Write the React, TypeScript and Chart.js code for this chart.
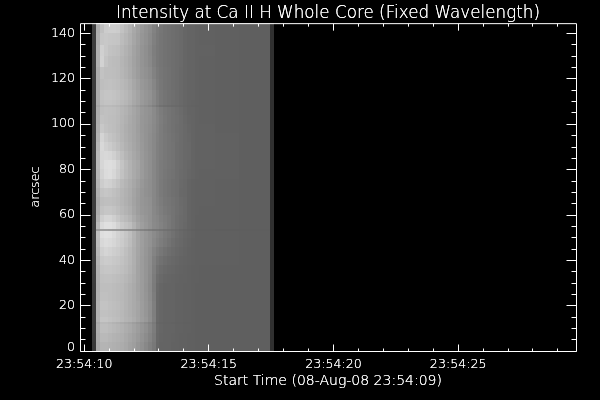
import React, { useEffect, useRef } from "react";
import { Chart, registerables } from "chart.js";

Chart.register(...registerables);

const titleText = "Intensity at Ca II H Whole Core (Fixed Wavelength)";
const xTitleText = "Start Time (08-Aug-08 23:54:09)";
const yTitleText = "arcsec";
const xMajorTicks = [10, 15, 20, 25];
const xMinorTicks = [11, 12, 13, 14, 16, 17, 18, 19, 21, 22, 23, 24, 26, 27, 28, 29];
const yMajorTicks = [0, 20, 40, 60, 80, 100, 120, 140];
const yMinorTicks = [5, 10, 15, 25, 30, 35, 45, 50, 55, 65, 70, 75, 85, 90, 95, 105, 110, 115, 125, 130, 135];

// Column edges, seconds after 23:54:00
const columnEdges = [10.30, 10.46, 10.62, 10.78, 10.94, 11.10, 11.26, 11.42, 11.58, 11.74, 11.90, 12.06, 12.22, 12.38, 12.54, 12.70, 12.86, 13.02, 13.18, 13.34, 13.50, 13.66, 13.82, 13.98, 14.14, 14.30, 14.46, 14.62, 15.26, 16.22, 17.46, 17.62];
// Row edges, arcsec, top to bottom
const rowEdges = [144.5, 140, 135, 130, 125, 120, 115, 110.5, 108.4, 107.6, 104, 100, 96, 92, 88, 84, 80, 76, 72, 68, 64, 60, 57, 53.8, 53.0, 50, 46, 42, 38, 34, 30, 26, 22, 18, 15, 12.7, 11.9, 8, 4, 0];

// Intensity (grey level) for each row, one value per column
const intensity = [
  [60, 172, 192, 204, 206, 206, 204, 194, 186, 178, 168, 160, 152, 146, 140, 130, 122, 118, 114, 112, 110, 108, 106, 102, 100, 100, 98, 97, 96, 95, 48],
  [60, 174, 198, 200, 198, 197, 196, 188, 182, 175, 166, 158, 150, 145, 138, 128, 121, 117, 114, 112, 110, 108, 106, 102, 100, 100, 98, 97, 96, 95, 48],
  [60, 176, 208, 200, 194, 192, 190, 184, 178, 172, 163, 156, 148, 143, 136, 126, 120, 117, 114, 112, 110, 108, 106, 102, 100, 100, 98, 98, 96, 95, 48],
  [60, 176, 210, 196, 190, 188, 187, 181, 176, 170, 162, 155, 148, 143, 137, 127, 120, 117, 114, 112, 110, 108, 106, 102, 100, 100, 98, 97, 96, 95, 48],
  [60, 172, 194, 190, 190, 189, 187, 182, 177, 171, 163, 156, 149, 145, 140, 130, 122, 118, 115, 113, 110, 108, 105, 102, 100, 100, 98, 97, 96, 95, 48],
  [60, 172, 190, 192, 193, 191, 189, 185, 181, 175, 167, 160, 152, 148, 143, 134, 124, 119, 115, 113, 110, 108, 105, 102, 100, 100, 98, 97, 96, 95, 48],
  [60, 173, 194, 197, 197, 195, 192, 188, 184, 178, 170, 163, 155, 150, 146, 137, 127, 120, 116, 113, 111, 108, 105, 102, 100, 100, 98, 97, 96, 95, 48],
  [60, 172, 192, 195, 195, 193, 190, 186, 182, 176, 168, 162, 154, 149, 144, 136, 127, 120, 116, 113, 110, 108, 105, 102, 100, 99, 98, 97, 96, 95, 48],
  [60, 166, 184, 186, 186, 184, 182, 178, 174, 168, 160, 154, 146, 142, 136, 128, 120, 113, 110, 108, 106, 105, 103, 101, 99, 98, 97, 97, 96, 95, 48],
  [60, 172, 190, 192, 191, 190, 187, 182, 178, 172, 166, 160, 152, 148, 145, 138, 130, 124, 119, 116, 113, 110, 107, 103, 100, 100, 98, 97, 96, 95, 48],
  [60, 173, 194, 192, 190, 189, 186, 181, 176, 170, 165, 159, 151, 148, 144, 138, 131, 125, 120, 116, 113, 111, 108, 104, 101, 100, 98, 97, 96, 95, 48],
  [60, 175, 200, 194, 191, 189, 185, 180, 174, 169, 165, 158, 151, 147, 143, 137, 130, 124, 119, 116, 113, 110, 108, 105, 102, 100, 98, 98, 96, 95, 48],
  [60, 178, 212, 202, 196, 192, 187, 181, 175, 170, 165, 159, 152, 147, 142, 136, 129, 124, 120, 117, 114, 111, 108, 105, 103, 100, 98, 98, 97, 95, 48],
  [60, 182, 216, 208, 203, 197, 191, 184, 177, 172, 166, 160, 153, 147, 142, 136, 128, 124, 120, 117, 115, 110, 108, 105, 104, 100, 98, 98, 97, 95, 48],
  [60, 185, 214, 216, 214, 208, 199, 190, 181, 175, 168, 162, 154, 148, 143, 136, 128, 124, 120, 117, 115, 110, 108, 105, 104, 100, 98, 98, 97, 95, 48],
  [60, 186, 214, 221, 222, 219, 208, 196, 186, 178, 170, 165, 155, 148, 143, 135, 128, 123, 120, 117, 115, 110, 108, 105, 103, 100, 98, 98, 97, 95, 48],
  [60, 184, 210, 219, 221, 215, 205, 194, 185, 178, 170, 164, 155, 148, 143, 135, 128, 123, 119, 116, 114, 110, 107, 105, 102, 100, 98, 97, 97, 95, 48],
  [60, 180, 204, 210, 208, 202, 195, 186, 180, 174, 167, 160, 152, 146, 142, 135, 128, 122, 118, 115, 112, 110, 106, 104, 100, 98, 97, 97, 96, 95, 48],
  [60, 175, 195, 198, 196, 192, 188, 182, 177, 172, 164, 157, 150, 145, 142, 135, 128, 122, 118, 115, 112, 110, 105, 104, 100, 98, 97, 97, 96, 95, 48],
  [60, 171, 189, 191, 191, 189, 186, 181, 176, 171, 163, 156, 150, 147, 144, 135, 129, 124, 119, 117, 114, 111, 107, 105, 100, 98, 97, 97, 96, 95, 48],
  [60, 173, 194, 198, 198, 195, 190, 184, 179, 174, 165, 157, 151, 148, 145, 136, 131, 126, 121, 118, 115, 111, 108, 105, 100, 98, 97, 96, 96, 95, 48],
  [60, 178, 206, 213, 213, 207, 199, 191, 186, 180, 170, 161, 155, 150, 145, 137, 134, 128, 124, 120, 115, 110, 107, 105, 100, 98, 96, 96, 96, 95, 48],
  [60, 186, 218, 224, 224, 220, 210, 201, 195, 190, 178, 166, 158, 152, 146, 138, 135, 130, 125, 120, 115, 110, 107, 104, 100, 98, 96, 96, 96, 95, 48],
  [60, 155, 160, 160, 158, 156, 154, 150, 148, 145, 142, 136, 132, 128, 124, 120, 119, 116, 113, 111, 108, 105, 102, 100, 98, 96, 95, 95, 94, 94, 48],
  [60, 190, 222, 225, 224, 218, 210, 205, 198, 190, 178, 166, 158, 152, 146, 139, 133, 128, 122, 118, 113, 108, 105, 102, 100, 98, 96, 96, 96, 95, 48],
  [60, 188, 216, 220, 218, 214, 208, 203, 196, 188, 177, 166, 158, 151, 146, 137, 130, 125, 120, 115, 110, 106, 104, 101, 99, 97, 96, 96, 96, 95, 48],
  [60, 184, 208, 213, 210, 206, 203, 198, 191, 184, 175, 165, 157, 150, 143, 132, 124, 119, 114, 110, 107, 104, 102, 100, 98, 97, 96, 96, 96, 95, 48],
  [60, 180, 201, 204, 203, 200, 198, 194, 189, 183, 175, 164, 156, 149, 142, 128, 118, 113, 109, 106, 104, 102, 100, 99, 98, 97, 96, 96, 96, 95, 48],
  [60, 177, 196, 198, 198, 196, 194, 191, 187, 181, 174, 163, 156, 149, 141, 126, 113, 108, 105, 103, 102, 100, 99, 98, 97, 96, 96, 95, 95, 95, 48],
  [59, 176, 192, 193, 193, 191, 189, 187, 183, 178, 172, 163, 156, 149, 140, 124, 109, 105, 102, 101, 100, 99, 98, 98, 97, 96, 96, 95, 95, 95, 48],
  [58, 175, 190, 190, 190, 188, 186, 185, 180, 175, 170, 162, 156, 148, 139, 123, 106, 102, 100, 100, 100, 98, 98, 97, 97, 96, 95, 95, 95, 95, 48],
  [58, 176, 192, 192, 190, 188, 186, 184, 180, 175, 170, 163, 156, 149, 140, 125, 105, 102, 100, 100, 100, 98, 98, 97, 97, 96, 95, 95, 95, 95, 48],
  [58, 178, 195, 195, 192, 190, 188, 185, 180, 175, 170, 165, 157, 150, 142, 127, 105, 102, 100, 100, 100, 98, 98, 97, 97, 96, 95, 95, 95, 95, 48],
  [58, 177, 193, 193, 191, 189, 187, 184, 179, 175, 170, 164, 157, 150, 141, 126, 105, 102, 100, 100, 100, 98, 98, 97, 97, 96, 95, 95, 95, 95, 48],
  [58, 178, 197, 197, 194, 191, 189, 185, 180, 177, 172, 165, 158, 152, 142, 127, 105, 102, 100, 100, 100, 98, 98, 97, 97, 96, 95, 95, 95, 95, 48],
  [58, 170, 186, 186, 183, 179, 176, 172, 168, 164, 158, 152, 146, 139, 131, 121, 102, 100, 99, 99, 98, 97, 97, 96, 96, 96, 95, 95, 95, 95, 48],
  [58, 174, 190, 190, 187, 184, 181, 178, 173, 169, 163, 157, 150, 144, 135, 124, 105, 102, 100, 100, 100, 98, 98, 97, 97, 96, 95, 95, 95, 95, 48],
  [57, 172, 185, 185, 182, 179, 177, 175, 170, 165, 160, 154, 147, 140, 132, 122, 104, 101, 100, 100, 99, 98, 97, 97, 96, 96, 95, 95, 95, 95, 48],
  [56, 170, 180, 180, 178, 176, 174, 172, 168, 162, 158, 150, 144, 136, 128, 120, 103, 100, 100, 100, 98, 98, 97, 97, 96, 96, 95, 95, 95, 95, 48],
];

const fontFamily = "'DejaVu Sans', sans-serif";

const two = (n: number) => String(n).padStart(2, "0");

const imagePlugin = {
  id: "idlImage",
  beforeDraw(chart: any) {
    const { ctx, scales } = chart;
    ctx.save();
    ctx.fillStyle = "#000";
    ctx.fillRect(0, 0, chart.width, chart.height);
    intensity.forEach((row, r) => {
      const y0 = Math.round(scales.y.getPixelForValue(rowEdges[r]));
      const y1 = Math.round(scales.y.getPixelForValue(rowEdges[r + 1]));
      row.forEach((v, c) => {
        const x0 = Math.round(scales.x.getPixelForValue(columnEdges[c]));
        const x1 = Math.round(scales.x.getPixelForValue(columnEdges[c + 1]));
        ctx.fillStyle = `rgb(${v},${v},${v})`;
        ctx.fillRect(x0, y0, x1 - x0, y1 - y0);
      });
    });
    ctx.restore();
  },
  afterDraw(chart: any) {
    const { ctx, scales, chartArea: a } = chart;
    // Second pass over the thin text so it reads as full white
    chart.titleBlock.draw(ctx);
    scales.x.draw(a);
    scales.y.draw(a);
    ctx.save();
    ctx.strokeStyle = "#fff";
    ctx.lineWidth = 1;
    ctx.beginPath();
    const L = a.left + 0.5, R = a.right + 0.5, T = a.top + 0.5, B = a.bottom + 0.5;
    ctx.rect(L, T, R - L, B - T);
    const xTick = (v: number, len: number) => {
      const p = Math.floor(scales.x.getPixelForValue(v)) + 0.5;
      ctx.moveTo(p, B); ctx.lineTo(p, B - len);
      ctx.moveTo(p, T); ctx.lineTo(p, T + len);
    };
    const yTick = (v: number, len: number) => {
      const p = Math.floor(scales.y.getPixelForValue(v) + 0.2) + 0.5;
      ctx.moveTo(L, p); ctx.lineTo(L + len, p);
      ctx.moveTo(R, p); ctx.lineTo(R - len, p);
    };
    xMajorTicks.forEach((v) => xTick(v, 7));
    xMinorTicks.forEach((v) => xTick(v, 3));
    yMajorTicks.forEach((v) => yTick(v, 10));
    yMinorTicks.forEach((v) => yTick(v, 5));
    ctx.stroke();
    ctx.restore();
  },
};

export default function App() {
  const ref = useRef<HTMLCanvasElement | null>(null);
  useEffect(() => {
    if (!ref.current) return;
    const chart = new Chart(ref.current, {
      type: "scatter",
      data: { datasets: [{ data: [], pointRadius: 0 }] },
      plugins: [imagePlugin],
      options: {
        animation: false,
        responsive: false,
        layout: { padding: { right: 24 } },
        plugins: {
          legend: { display: false },
          tooltip: { enabled: false },
          title: {
            display: true,
            text: titleText,
            color: "#fff",
            fullSize: false,
            font: { family: fontFamily, size: 16.8, weight: "200", lineHeight: 1.17 },
            padding: { top: 3.5, bottom: 0 },
          },
        },
        scales: {
          x: {
            type: "linear",
            min: 9.8315,
            max: 29.727,
            grid: { display: false, drawTicks: false },
            border: { display: false },
            afterBuildTicks: (s: any) => { s.ticks = xMajorTicks.map((value) => ({ value })); },
            afterFit: (s: any) => { s.height = 49; s.paddingLeft = 0; s.paddingRight = 0; },
            ticks: {
              color: "#fff",
              padding: 6,
              maxRotation: 0,
              autoSkip: false,
              font: { family: fontFamily, size: 12.6, weight: "200" },
              callback: (v: any) => `23:54:${two(Number(v))}`,
            },
            title: {
              display: true,
              text: xTitleText,
              color: "#fff",
              font: { family: fontFamily, size: 14, weight: "200" },
              padding: { top: 0, bottom: 10 },
            },
          },
          y: {
            type: "linear",
            min: 0,
            max: 144.5,
            grid: { display: false, drawTicks: false },
            border: { display: false },
            afterBuildTicks: (s: any) => { s.ticks = yMajorTicks.map((value) => ({ value })); },
            afterFit: (s: any) => { s.width = 80; s.paddingTop = 0; s.paddingBottom = 0; },
            ticks: {
              color: "#fff",
              padding: 5,
              autoSkip: false,
              font: (c: any) => ({
                family: fontFamily,
                size: 12.6,
                weight: "200",
                lineHeight: c.tick && c.tick.value === 0 ? 0.6 : 1.2,
              }),
              callback: (v: any) => (Number(v) === 0 ? ["0", ""] : String(v)),
            },
            title: {
              display: true,
              text: yTitleText,
              color: "#fff",
              font: { family: fontFamily, size: 12.6, weight: "200" },
              padding: { top: 28, bottom: 0 },
            },
          },
        },
      },
    } as any);
    return () => chart.destroy();
  }, []);
  return (
    <div style={{ position: "fixed", left: 0, top: 0, width: 600, height: 400, background: "#000" }}>
      <canvas ref={ref} width={600} height={400} style={{ display: "block" }} />
    </div>
  );
}
